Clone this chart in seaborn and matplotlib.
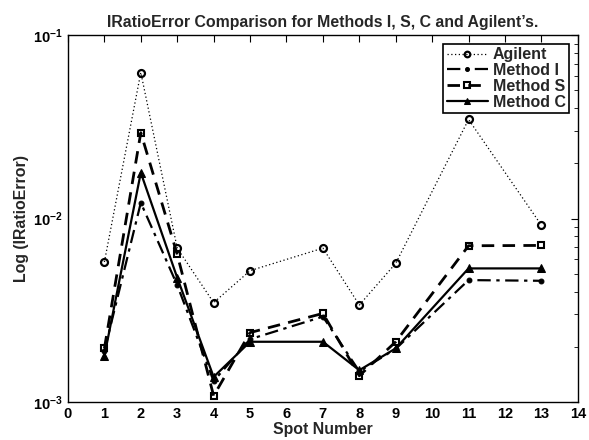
import numpy as np
import pandas as pd
import matplotlib
matplotlib.use('Agg')
import matplotlib.pyplot as plt
import seaborn as sns
from matplotlib.ticker import LogLocator, NullFormatter

sns.set_style('white')
plt.rcParams['font.family'] = ['Liberation Sans', 'DejaVu Sans']
plt.rcParams['font.weight'] = 'bold'
plt.rcParams['mathtext.fontset'] = 'custom'
plt.rcParams['mathtext.rm'] = 'Liberation Sans:bold'
plt.rcParams['mathtext.bf'] = 'Liberation Sans:bold'
plt.rcParams['mathtext.default'] = 'bf'

# data
spots = [1, 2, 3, 4, 5, 7, 8, 9, 11, 13]
agilent = [0.0058, 0.0626, 0.0069, 0.00348, 0.0052, 0.0069, 0.00338, 0.0057, 0.0347, 0.0092]
method_i = [0.0019, 0.0122, 0.00434, 0.0013, 0.0022, 0.00292, 0.00147, 0.00195, 0.00462, 0.00458]
method_s = [0.00196, 0.0294, 0.00638, 0.00108, 0.00239, 0.00304, 0.00139, 0.00213, 0.00711, 0.00714]
method_c = [0.00178, 0.0178, 0.00476, 0.00137, 0.00213, 0.00213, 0.00149, 0.00196, 0.00535, 0.00535]

df = pd.DataFrame({'spot': spots, 'Agilent': agilent, 'Method I': method_i,
                   'Method S': method_s, 'Method C': method_c})

fig = plt.figure(figsize=(5.89, 4.4), dpi=100)
ax = fig.add_axes([0.1154, 0.0864, 0.8656, 0.8336])

styles = {
    'Agilent': dict(linestyle=(0, (1, 2)), linewidth=0.9, marker='o', markersize=5,
                    markerfacecolor='none', markeredgewidth=1.6),
    'Method I': dict(linestyle=(0, (6, 2.5, 1.5, 2.5)), linewidth=1.6, marker='o',
                     markersize=3.5, markerfacecolor='k'),
    'Method S': dict(linestyle=(0, (4.5, 3)), linewidth=2.0, marker='s', markersize=5,
                     markerfacecolor='none', markeredgewidth=1.5),
    'Method C': dict(linestyle='-', linewidth=1.6, marker='^', markersize=6,
                     markerfacecolor='k'),
}
for name, st in styles.items():
    sns.lineplot(data=df, x='spot', y=name, ax=ax, color='k', markeredgecolor='k',
                 label=name, **st)

ax.set_yscale('log')
ax.set_ylim(1e-3, 1e-1)
ax.set_xlim(0, 14)
ax.set_xticks(range(0, 15))
ax.yaxis.set_major_locator(LogLocator(base=10))
ax.yaxis.set_minor_locator(LogLocator(base=10, subs=np.arange(2, 10)))
ax.yaxis.set_minor_formatter(NullFormatter())
ax.tick_params(axis='both', which='both', direction='in', top=True, right=True,
               labelsize=10.5, colors='k')
ax.tick_params(which='major', length=5)
ax.tick_params(which='minor', length=3)
for sp in ax.spines.values():
    sp.set_color('k')
    sp.set_linewidth(1.0)

ax.set_title('IRatioError Comparison for Methods I, S, C and Agilent\u2019s.',
             fontsize=11.4, fontweight='bold', pad=6)
ax.set_xlabel('Spot Number', fontsize=11.4, fontweight='bold', labelpad=1)
ax.set_ylabel('Log (IRatioError)', fontsize=11.4, fontweight='bold', labelpad=3)

leg = ax.legend(loc='upper right', fontsize=11.5, frameon=True, fancybox=False,
                edgecolor='k', framealpha=1, borderpad=0.2, labelspacing=0.05,
                handlelength=2.6, handletextpad=0.3, borderaxespad=0.55,
                markerscale=0.8)
leg.get_frame().set_linewidth(1.2)
for t in leg.get_texts():
    t.set_fontweight('bold')

fig.savefig('out.png', dpi=100)
